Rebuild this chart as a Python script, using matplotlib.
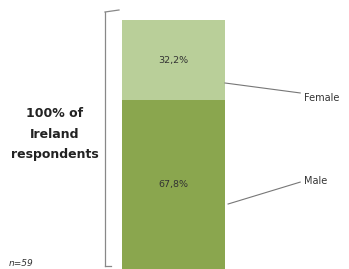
import matplotlib
matplotlib.use("Agg")
import matplotlib.pyplot as plt

plt.rcParams.update({"font.family": "DejaVu Sans"})

groups = ["Male", "Female"]
shares = [67.8, 32.2]
labels = ["67,8%", "32,2%"]
colors = ["#8aa64e", "#b9cf99"]
INK = "#333333"

W, H = 349, 269
fig = plt.figure(figsize=(W/100, H/100), dpi=100)
# bar area: bottom of figure up to y=20 px from top
ax = fig.add_axes([0, 0, 1, (H-20)/H])
bl, br = 122, 225
pw = br - bl
ax.set_xlim(-0.5 - bl/pw, 0.5 + (W-br)/pw)
ax.set_ylim(0, 100)
ax.axis("off")

bottom = 0
for g, v, lab, c in zip(groups, shares, labels, colors):
    ax.bar(0, v, 1, bottom=bottom, color=c, edgecolor="none")
    ax.text(0, bottom + v/2, lab, ha="center", va="center", fontsize=6.8, color=INK)
    bottom += v

# leader lines + category labels
ax.plot([0.53, 1.23], [26.1, 34.9], color="#777777", lw=0.8)
ax.plot([0.5, 1.23], [74.7, 70.7], color="#777777", lw=0.8)
ax.text(1.27, 35.5, "Male", fontsize=7, color=INK, va="center")
ax.text(1.27, 68.7, "Female", fontsize=7, color=INK, va="center")

# bracket
fig.add_artist(plt.Line2D([105/W, 105/W], [1-12/H, 1-266/H], color="#888888", lw=0.9))
fig.add_artist(plt.Line2D([105/W, 119/W], [1-12/H, 1-10/H], color="#888888", lw=0.9))
fig.add_artist(plt.Line2D([105/W, 111/W], [1-266/H, 1-266/H], color="#888888", lw=0.9))

fig.text(55/W, 1-134/H, "100% of\nIreland\nrespondents", ha="center", va="center",
         fontsize=9, weight="bold", color="#222222", linespacing=1.75)
fig.text(9/W, 1-263/H, "n=59", fontsize=6.5, color=INK, va="center", style="italic")

fig.savefig("out.png", dpi=100)
